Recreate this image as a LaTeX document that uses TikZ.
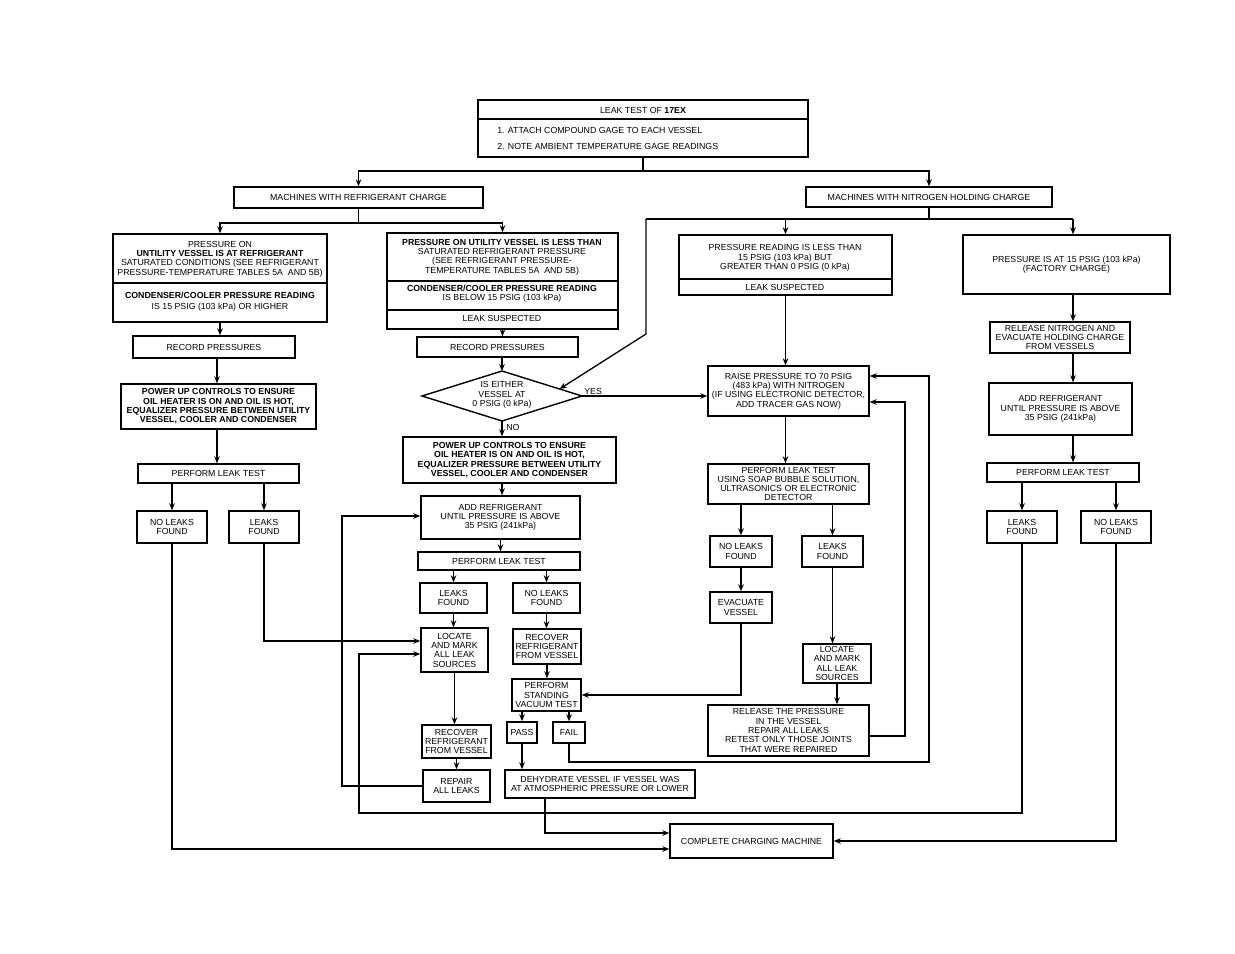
\documentclass[tikz,border=0pt]{standalone}
\usepackage{fontspec}
\setmainfont{Liberation Sans}
\usetikzlibrary{arrows.meta,fit,calc}
\newcommand{\smallfs}{\fontsize{5}{5.3}\selectfont}
\newcommand{\bx}[6]{\node[box,fit={(#2,#3) (#4,#5)}] (#1) {};\node[txt] (#1-t) at (#1.center) {#6};}
\begin{document}
\begin{tikzpicture}[x=0.02cm,y=-0.02cm,
  box/.style={draw,line width=0.8pt,inner sep=0pt},
  txt/.style={inner sep=0pt,align=center,font=\smallfs},
  ln/.style={line width=0.75pt},
  arr/.style={ln,-{Stealth[length=4pt,width=3.2pt]}},
]
\useasboundingbox (0,0) rectangle (1235,954);

% ---------- top ----------
\bx{top}{478}{100}{808}{157}{}
\draw[line width=0.8pt] (top.west |- 0,119) -- (top.east |- 0,119);
\node[txt] (topt) at (643,110) {LEAK TEST OF \textbf{17EX}};
\node[txt,anchor=west] (top1) at (497,130) {1. ATTACH COMPOUND GAGE TO EACH VESSEL};
\node[txt,anchor=west] (top2) at (497,146) {2. NOTE AMBIENT TEMPERATURE GAGE READINGS};

\bx{mrc}{234}{187}{483}{208}{MACHINES WITH REFRIGERANT CHARGE}
\bx{mnh}{806}{187}{1052}{207}{MACHINES WITH NITROGEN HOLDING CHARGE}

% ---------- second row ----------
\bx{bA}{113}{234}{327}{322}{}
\draw[line width=0.8pt] (bA.west |- 0,283) -- (bA.east |- 0,283);
\node[txt] (bAt) at (220,259) {PRESSURE ON\\\textbf{UNTILITY VESSEL IS AT REFRIGERANT}\\SATURATED CONDITIONS (SEE REFRIGERANT\\PRESSURE-TEMPERATURE TABLES 5A\ \ AND 5B)};
\node[txt] (bAc) at (220,295) {\textbf{CONDENSER/COOLER PRESSURE READING}};
\node[txt] (bAd) at (220,307) {IS 15 PSIG (103 kPa) OR HIGHER};

\bx{bB}{387}{233}{618}{329}{}
\draw[line width=0.8pt] (bB.west |- 0,281) -- (bB.east |- 0,281);
\draw[line width=0.8pt] (bB.west |- 0,310) -- (bB.east |- 0,310);
\node[txt] (bBt) at (502,257) {\textbf{PRESSURE ON UTILITY VESSEL IS LESS THAN}\\SATURATED REFRIGERANT PRESSURE\\(SEE REFRIGERANT PRESSURE-\\TEMPERATURE TABLES 5A\ \ AND 5B)};
\node[txt] (bBc) at (502,294) {\textbf{CONDENSER/COOLER PRESSURE READING}\\IS BELOW 15 PSIG (103 kPa)};
\node[txt] (bBd) at (502,318) {LEAK SUSPECTED};

\bx{bC}{679}{235}{892}{295}{}
\draw[line width=0.8pt] (bC.west |- 0,279) -- (bC.east |- 0,279);
\node[txt] (bCt) at (785,258) {PRESSURE READING IS LESS THAN\\15 PSIG (103 kPa) BUT\\GREATER THAN 0 PSIG (0 kPa)};
\node[txt] (bCd) at (785,287) {LEAK SUSPECTED};

\bx{bD}{963}{235}{1170}{294}{PRESSURE IS AT 15 PSIG (103 kPa)\\(FACTORY CHARGE)}

% ---------- left column ----------
\bx{recL}{133}{336}{295}{358}{RECORD PRESSURES}
\bx{pwrL}{121}{384}{316}{429}{\textbf{POWER UP CONTROLS TO ENSURE}\\\textbf{OIL HEATER IS ON AND OIL IS HOT,}\\\textbf{EQUALIZER PRESSURE BETWEEN UTILITY}\\\textbf{VESSEL, COOLER AND CONDENSER}}
\bx{pltL}{138}{464}{299}{483}{PERFORM LEAK TEST}
\bx{nlfL}{137}{511}{207}{543}{NO LEAKS\\FOUND}
\bx{lfL}{229}{511}{299}{543}{LEAKS\\FOUND}

% ---------- middle column ----------
\bx{recM}{417}{337}{578}{357}{RECORD PRESSURES}
\coordinate (dT) at (502,371);
\coordinate (dB) at (502,421);
\coordinate (dL) at (422,396);
\coordinate (dR) at (582,396);
\draw[line width=0.8pt] (dT) -- (dR) -- (dB) -- (dL) -- cycle;
\node[txt] (dtext) at (502,395) {IS EITHER\\VESSEL AT\\0 PSIG (0 kPa)};
\node[txt,anchor=west] (yes) at (584,391) {YES};
\node[txt,anchor=west] (no) at (506,427) {NO};
\bx{pwrM}{403}{437}{616}{483}{\textbf{POWER UP CONTROLS TO ENSURE}\\\textbf{OIL HEATER IS ON AND OIL IS HOT,}\\\textbf{EQUALIZER PRESSURE BETWEEN UTILITY}\\\textbf{VESSEL, COOLER AND CONDENSER}}
\bx{addM}{421}{496}{580}{539}{ADD REFRIGERANT\\UNTIL PRESSURE IS ABOVE\\35 PSIG (241kPa)}
\bx{pltM}{418}{552}{580}{570}{PERFORM LEAK TEST}
\bx{lfM}{420}{583}{487}{613}{LEAKS\\FOUND}
\bx{nlfM}{513}{583}{580}{613}{NO LEAKS\\FOUND}
\bx{locM}{421}{628}{488}{672}{LOCATE\\AND MARK\\ALL LEAK\\SOURCES}
\bx{recovL}{422}{725}{491}{758}{RECOVER\\REFRIGERANT\\FROM VESSEL}
\bx{repair}{423}{770}{490}{802}{REPAIR\\ALL LEAKS}
\bx{recovR}{513}{629}{581}{664}{RECOVER\\REFRIGERANT\\FROM VESSEL}
\bx{psvt}{512}{679}{581}{711}{PERFORM\\STANDING\\VACUUM TEST}
\bx{pass}{507}{722}{537}{743}{PASS}
\bx{fail}{553}{722}{585}{743}{FAIL}
\bx{dehyd}{505}{770}{695}{798}{DEHYDRATE VESSEL IF VESSEL WAS\\AT ATMOSPHERIC PRESSURE OR LOWER}
\bx{ccm}{670}{824}{833}{858}{COMPLETE CHARGING MACHINE}

% ---------- nitrogen left column ----------
\bx{raise}{708}{366}{869}{416}{RAISE PRESSURE TO 70 PSIG\\(483 kPa) WITH NITROGEN\\(IF USING ELECTRONIC DETECTOR,\\ADD TRACER GAS NOW)}
\bx{pltN}{708}{464}{869}{504}{PERFORM LEAK TEST\\USING SOAP BUBBLE SOLUTION,\\ULTRASONICS OR ELECTRONIC\\DETECTOR}
\bx{nlfN}{710}{536}{772}{567}{NO LEAKS\\FOUND}
\bx{lfN}{802}{536}{863}{567}{LEAKS\\FOUND}
\bx{evac}{710}{592}{772}{623}{EVACUATE\\VESSEL}
\bx{locN}{803}{644}{871}{683}{LOCATE\\AND MARK\\ALL LEAK\\SOURCES}
\bx{release}{708}{705}{869}{756}{RELEASE THE PRESSURE\\IN THE VESSEL\\REPAIR ALL LEAKS\\RETEST ONLY THOSE JOINTS\\THAT WERE REPAIRED}

% ---------- nitrogen right column ----------
\bx{relN}{990}{322}{1130}{353}{RELEASE NITROGEN AND\\EVACUATE HOLDING CHARGE\\FROM VESSELS}
\bx{addR}{989}{383}{1132}{435}{ADD REFRIGERANT\\UNTIL PRESSURE IS ABOVE\\35 PSIG (241kPa)}
\bx{pltR}{987}{463}{1139}{482}{PERFORM LEAK TEST}
\bx{lfR}{987}{511}{1057}{543}{LEAKS\\FOUND}
\bx{nlfR}{1081}{511}{1151}{543}{NO LEAKS\\FOUND}

% ================= connectors =================
\coordinate (jTop) at (643,171);
\draw[ln] (top.south) -- (jTop);
\draw[arr] (jTop) -| (mrc.north);
\draw[arr] (jTop) -| (mnh.north);

\coordinate (jR) at (mrc.south |- 0,223);
\draw[ln] (mrc.south) -- (jR);
\draw[arr] (jR) -| (bA.north);
\draw[arr] (jR) -| (bB.north);

\coordinate (nL) at (646,219);
\coordinate (nR) at (1073,219);
\draw[ln] (mnh.south) -- (mnh.south |- nL);
\draw[ln] (nL) -- (nR);
\draw[arr] (nR) -- (nR |- bD.north);
\draw[arr] (bC.north |- nL) -- (bC.north);
\coordinate (dIn) at ($(dT)!0.72!(dR)$);
\draw[arr] (nL) -- (646,334) -- (dIn);

% left column
\coordinate (xL) at (217,0);
\draw[arr] (bA.south) -- (bA.south |- recL.north);
\draw[arr] (xL |- recL.south) -- (xL |- pwrL.north);
\draw[arr] (xL |- pwrL.south) -- (xL |- pltL.north);
\draw[arr] (nlfL.north |- pltL.south) -- (nlfL.north);
\draw[arr] (lfL.north |- pltL.south) -- (lfL.north);
\draw[arr] (lfL.south) |- (locM.west |- 0,641);
\draw[arr] (nlfL.south) |- (ccm.west |- 0,849);

% middle column
\draw[arr] (bB.south) -- (bB.south |- recM.north);
\draw[arr] (dT |- recM.south) -- (dT);
\draw[arr] (dB) -- (dB |- pwrM.north);
\draw[arr] (dR) -- (dR -| raise.west);
\draw[arr] (dB |- pwrM.south) -- (dB |- addM.north);
\draw[arr] (addM.south) -- (addM.south |- pltM.north);
\draw[arr] (lfM.north |- pltM.south) -- (lfM.north);
\draw[arr] (nlfM.north |- pltM.south) -- (nlfM.north);
\draw[arr] (lfM.south) -- (lfM.south |- locM.north);
\draw[arr] (locM.south) -- (locM.south |- recovL.north);
\draw[arr] (recovL.south) -- (recovL.south |- repair.north);
\draw[arr] (nlfM.south) -- (nlfM.south |- recovR.north);
\draw[arr] (recovR.south) -- (recovR.south |- psvt.north);
\draw[arr] (pass.north |- psvt.south) -- (pass.north);
\draw[arr] (fail.north |- psvt.south) -- (fail.north);
\draw[arr] (pass.south) -- (pass.south |- dehyd.north);
\coordinate (cA) at (545,833);
\draw[arr] (cA |- dehyd.south) -- (cA) -- (cA -| ccm.west);
\draw[arr] (repair.west) -| (342,516) -- (342,516 -| addM.west);

% nitrogen left column
\draw[arr] (bC.south) -- (bC.south |- raise.north);
\draw[arr] (bC.south |- raise.south) -- (bC.south |- pltN.north);
\draw[arr] (nlfN.north |- pltN.south) -- (nlfN.north);
\draw[arr] (lfN.north |- pltN.south) -- (lfN.north);
\draw[arr] (nlfN.south) -- (nlfN.south |- evac.north);
\draw[arr] (lfN.south) -- (lfN.south |- locN.north);
\draw[arr] (locN.south) -- (locN.south |- release.north);
\draw[arr] (evac.south) |- (psvt.east);
\draw[arr] (release.east |- 0,736) -| (905,402) -- (raise.east |- 0,402);
\draw[arr] (fail.south) |- (929,762) -- (929,376) -- (raise.east |- 0,376);

% nitrogen right column
\draw[arr] (nR |- bD.south) -- (nR |- relN.north);
\draw[arr] (nR |- relN.south) -- (nR |- addR.north);
\draw[arr] (nR |- addR.south) -- (nR |- pltR.north);
\draw[arr] (lfR.north |- pltR.south) -- (lfR.north);
\draw[arr] (nlfR.north |- pltR.south) -- (nlfR.north);
\draw[arr] (lfR.south) -- (lfR.south |- 0,813) -| (359,654) -- (locM.west |- 0,654);
\draw[arr] (nlfR.south) |- (ccm.east);
\end{tikzpicture}
\end{document}
